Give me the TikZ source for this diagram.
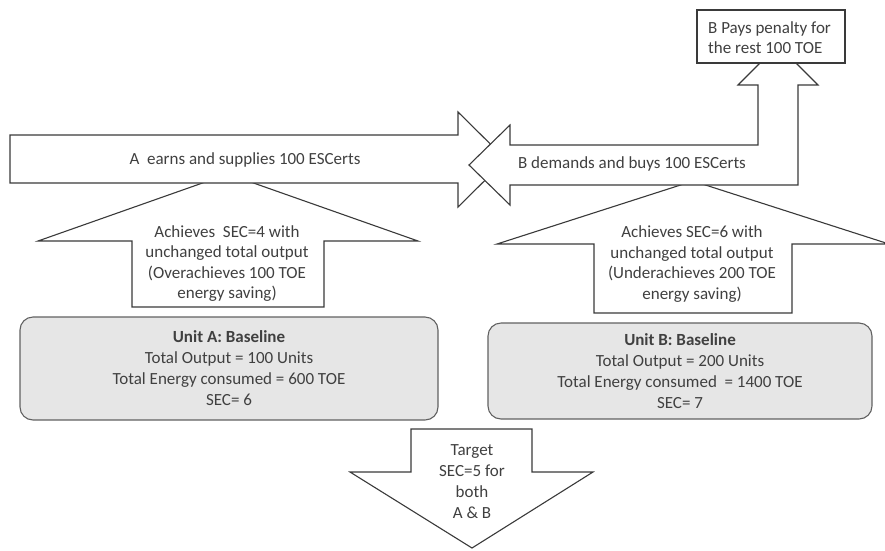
\documentclass[tikz,border=0pt]{standalone}
\usepackage{fontspec}
\setmainfont{Carlito}
\definecolor{ink}{HTML}{404040}
\definecolor{edge}{HTML}{3A3A3A}
\definecolor{panel}{HTML}{E6E6E6}
\begin{document}
\begin{tikzpicture}[x=1pt,y=-1pt,
  blockarrow/.style={draw=edge, line width=1.1pt, fill=white, line join=miter},
  txt/.style={text=ink, font=\fontsize{17}{20.5}\selectfont, align=center, inner sep=0pt},
  unitbox/.style={draw=edge!80, line width=1.1pt, fill=panel, rounded corners=13pt,
    text=ink, font=\fontsize{17}{21}\selectfont, align=center, inner sep=0pt,
    minimum height=103pt}]
\useasboundingbox (0,0) rectangle (885,550);

% upward block arrows (their heads sit behind the horizontal arrows)
\draw[blockarrow] (132,307) -- (132,241) -- (38,241) -- (228,174) -- (418,241)
  -- (324,241) -- (324,307) -- cycle;
\draw[blockarrow] (594,313) -- (594,244) -- (497,244) -- (693,181) -- (889,244)
  -- (792,244) -- (792,313) -- cycle;

% A -> right
\draw[blockarrow] (10,135) -- (458,135) -- (458,112) -- (506,159.5) -- (458,207)
  -- (458,183) -- (10,183) -- cycle;
% B <- left, bending up to the penalty box
\draw[blockarrow] (798,185) -- (510,185) -- (510,205) -- (469,165) -- (510,125)
  -- (510,145) -- (758,145) -- (758,85) -- (738,85) -- (778,45) -- (818,85)
  -- (798,85) -- cycle;

% penalty box
\node[draw=edge, line width=1.1pt, fill=white, minimum width=148pt,
  minimum height=53pt, inner sep=0pt] (penalty) at (771,36.5) {};
\node[txt, align=left, anchor=west] (penaltytext) at (708,37.5)
  {B Pays penalty for\\the rest 100 TOE};

% arrow texts
\node[txt] (earns) at (245,160) {A\ \ earns and supplies 100 ESCerts};
\node[txt] (buys) at (632,164) {B demands and buys 100 ESCerts};
\node[txt] (achA) at (227,263.5) {Achieves\ \ SEC=4 with\\unchanged total output\\(Overachieves 100 TOE\\energy saving)};
\node[txt] (achB) at (692,264) {Achieves SEC=6 with\\unchanged total output\\(Underachieves 200 TOE\\energy saving)};

% baseline boxes
\node[unitbox, minimum width=418pt] (unitA) at (229,368.5)
  {\textbf{Unit A: Baseline}\\Total Output = 100 Units\\Total Energy consumed = 600 TOE\\SEC= 6};
\node[unitbox, minimum width=384pt, minimum height=96pt] (unitB) at (680,371)
  {\textbf{Unit B: Baseline}\\Total Output = 200 Units\\Total Energy consumed\ \ = 1400 TOE\\SEC= 7};

% target arrow
\draw[blockarrow] (411,429) -- (532,429) -- (532,472) -- (593,472) -- (472,548)
  -- (350,472) -- (411,472) -- cycle;
\node[txt, font=\fontsize{17}{21}\selectfont] (target) at (472,481.5) {Target\\SEC=5 for\\both\\A \& B};
\end{tikzpicture}
\end{document}
